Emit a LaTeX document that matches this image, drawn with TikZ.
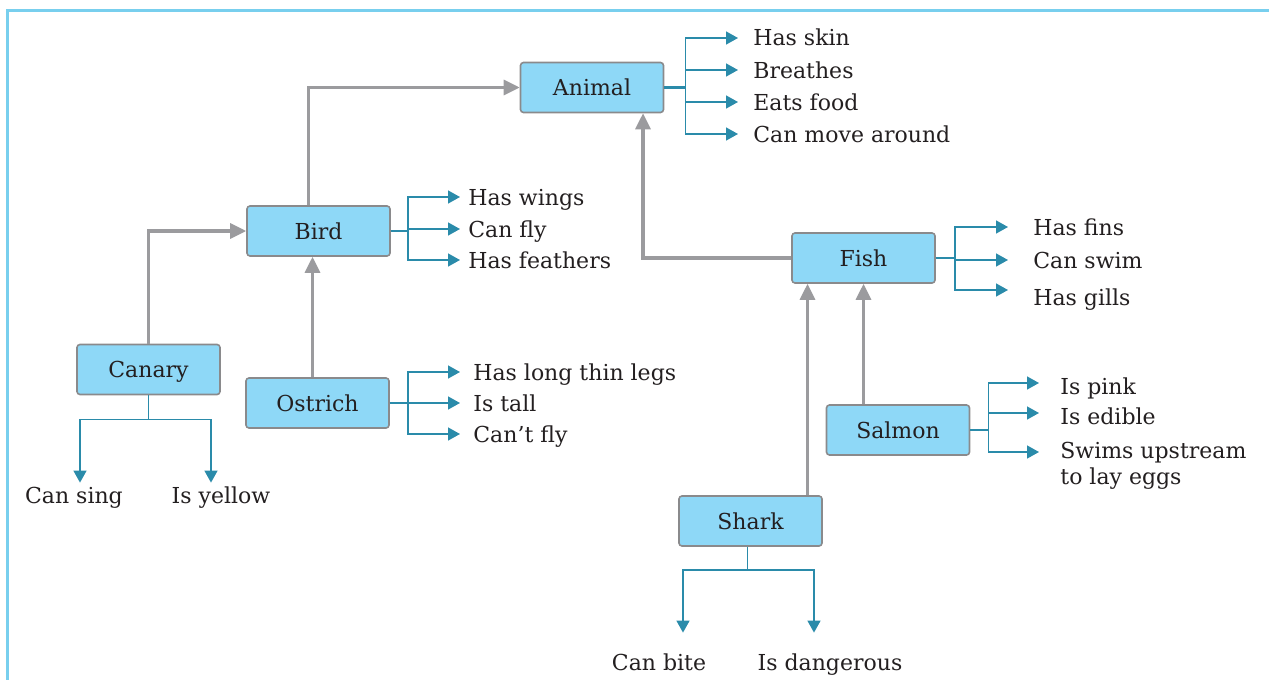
\documentclass[tikz,border=0pt]{standalone}
\usepackage{fontspec}
\setmainfont{DejaVu Serif}
\usetikzlibrary{arrows.meta,positioning}
\definecolor{boxfill}{HTML}{8ED8F7}
\definecolor{boxline}{HTML}{8A8A8C}
\definecolor{linkgray}{HTML}{9B9B9E}
\definecolor{featblue}{HTML}{2A8BAA}
\definecolor{framecol}{HTML}{78CFEE}
\definecolor{inkcol}{HTML}{231F20}

\begin{document}
\begin{tikzpicture}[x=0.5pt,y=-0.5pt,
  font=\fontsize{11}{13}\selectfont,text=inkcol,
  box/.style={draw=boxline,line width=0.8pt,fill=boxfill,rounded corners=1.5pt,minimum width=71.5pt,minimum height=25pt,text height=8pt,text depth=0pt},
  lbl/.style={anchor=west,inner sep=0pt,text height=8pt,text depth=0pt},
  dlbl/.style={inner sep=0pt,text height=8pt,text depth=0pt},
  link/.style={-{Triangle[length=8pt,width=7.5pt]},linkgray,line width=1.6pt},
  feat/.style={-{Triangle[length=6pt,width=6.5pt]},featblue,line width=0.75pt}]
\useasboundingbox (0,0) rectangle (1269,680);
\draw[framecol,line width=1.5pt] (7,680) -- (7,10) -- (1269,10);

% boxes
\node[box] (animal) at (592,87.5) {Animal};
\node[box] (bird) at (318.5,231) {Bird};
\node[box] (canary) at (148.5,369.5) {Canary};
\node[box] (ostrich) at (317.5,403) {Ostrich};
\node[box] (fish) at (863.5,258) {Fish};
\node[box] (salmon) at (898,430) {Salmon};
\node[box] (shark) at (750.5,521) {Shark};

% features
\node[lbl] (hs) at (753,38) {Has skin};
\node[lbl] (br) at (753,70) {Breathes};
\node[lbl] (ef) at (753,102) {Eats food};
\node[lbl] (cm) at (753,134) {Can move around};
\node[lbl] (hw) at (468,197) {Has wings};
\node[lbl] (cf) at (468,229) {Can fly};
\node[lbl] (hf) at (468,260) {Has feathers};
\node[lbl] (hl) at (473,372) {Has long thin legs};
\node[lbl] (it) at (473,403) {Is tall};
\node[lbl] (nf) at (473,434) {Can’t fly};
\node[lbl] (fi) at (1033,227) {Has fins};
\node[lbl] (sw) at (1033,260) {Can swim};
\node[lbl] (hg) at (1033,297) {Has gills};
\node[lbl] (ip) at (1060,386) {Is pink};
\node[lbl] (ie) at (1060,416) {Is edible};
\node[anchor=west,inner sep=0pt,align=left] (su) at (1060,466) {Swims upstream\\to lay eggs};
\node[dlbl] (cs) at (74,495) {Can sing};
\node[dlbl] (iy) at (221,495) {Is yellow};
\node[dlbl] (cb) at (659,662) {Can bite};
\node[dlbl] (id) at (830,662) {Is dangerous};

% links between groups
\coordinate (ost) at ([xshift=-2.5pt]ostrich.north);
\coordinate (shk) at ([xshift=-28pt]fish.south);
\draw[link] ([xshift=-5pt]bird.north) |- (animal.west);
\draw[link] (canary.north) |- (bird.west);
\draw[link] (ost) -- (ost |- bird.south);
\draw[link] (fish.west) -| ([xshift=25.5pt]animal.south);
\draw[link] (salmon.north -| fish.south) -- (fish.south);
\draw[link] (shark.north -| shk) -- (shk);

% feature arrows
\draw[featblue,line width=1.3pt] (animal.east) -- ++(21,0);
\foreach \t in {hs,br,ef,cm}
  \draw[feat,shorten >=7.5pt] (animal.east) -- ++(21,0) |- (\t.west);
\foreach \t in {hw,cf,hf}
  \draw[feat,shorten >=4pt] (bird.east) -- ++(17,0) |- (\t.west);
\foreach \t in {hl,it,nf}
  \draw[feat,shorten >=6.5pt] (ostrich.east) -- ++(18,0) |- (\t.west);
\foreach \t in {fi,sw}
  \draw[feat,shorten >=12.5pt] (fish.east) -- ++(19,0) |- (\t.west);
\draw[feat,shorten >=12.5pt] (fish.east) -- ++(19,0) |- ([yshift=3.5pt]hg.west);
\foreach \t in {ip,ie}
  \draw[feat,shorten >=10.5pt] (salmon.east) -- ++(18,0) |- ([yshift=1.5pt]\t.west);
\draw[feat,shorten >=10.5pt] (salmon.east) -- ++(18,0) |- ([yshift=7pt]su.west);
\draw[feat,shorten >=2pt] (canary.south) -- ++(0,24) -| ([xshift=3pt]cs.north);
\draw[feat,shorten >=2pt] (canary.south) -- ++(0,24) -| ([xshift=-5pt]iy.north);
\draw[feat,shorten >=10.5pt] ([xshift=-1.5pt]shark.south) -- ++(0,23) -| ([xshift=12pt]cb.north);
\draw[feat,shorten >=10.5pt] ([xshift=-1.5pt]shark.south) -- ++(0,23) -| ([xshift=-8pt]id.north);
\end{tikzpicture}
\end{document}
